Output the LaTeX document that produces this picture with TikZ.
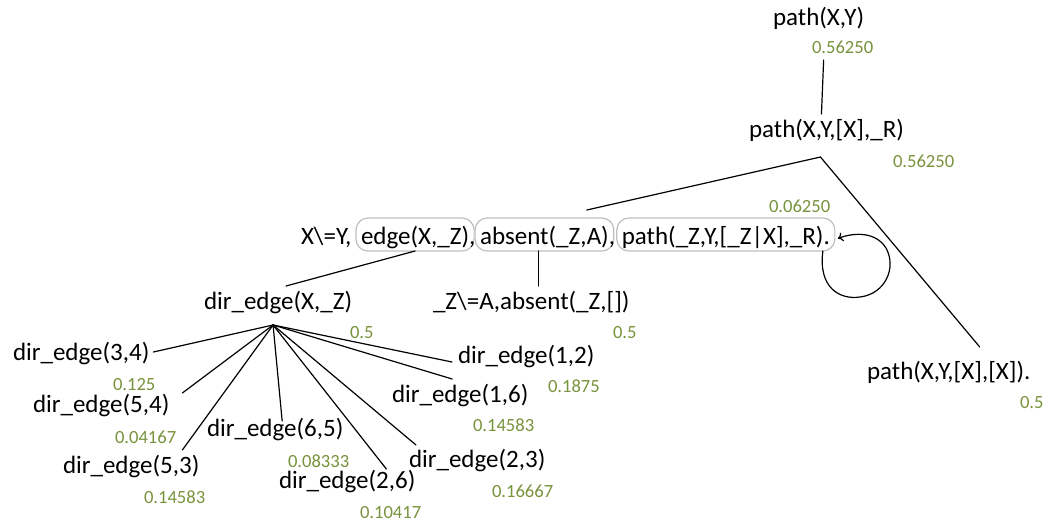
\documentclass[tikz,border=0pt]{standalone}
\usepackage{fontspec}
\setmainfont{Carlito}
\usetikzlibrary{calc,arrows.meta}
\definecolor{numgreen}{RGB}{119,147,60}
\definecolor{boxgray}{RGB}{190,190,190}
\begin{document}
\begin{tikzpicture}[x=1pt,y=-1pt,
  lbl/.style={inner sep=0pt, outer sep=0pt, anchor=base west,
    font=\fontsize{25}{30}\selectfont, text height=18pt, text depth=5pt},
  num/.style={inner sep=0pt, outer sep=0pt, anchor=base west,
    font=\fontsize{18.6}{22}\selectfont, text=numgreen, text height=13pt, text depth=0pt},
  goal/.style={lbl, draw=boxgray, line width=1.2pt, rounded corners=12pt,
    inner xsep=5pt, inner ysep=1pt, text height=25pt, text depth=6pt},
  link/.style={line width=1.2pt, line cap=round}]
\useasboundingbox (0,0) rectangle (1056,525);

% query and its first resolvent
\node[lbl] (n0) at (773,25) {path(X,Y)};
\node[num] (w0) at (812,53) {0.56250};
\node[lbl] (n1) at (749,137) {path(X,Y,[X],\_R)};
\node[num] (w1) at (893,167) {0.56250};

% clause body with the three boxed goals
\node[lbl] (t0) at (301,244) {X\textbackslash=Y,};
\node[goal] (b1) at (356,244) {edge(X,\_Z)};
\node[lbl] (c1) at ([xshift=-5pt]b1.base east) {,};
\node[goal] (b2) at ([xshift=1pt]b1.base east) {absent(\_Z,A)};
\node[lbl] (c2) at ([xshift=-5pt]b2.base east) {,};
\node[goal] (b3) at ([xshift=3pt]b2.base east) {path(\_Z,Y,[\_Z|X],\_R).};
\node[num] (w2) at (769,212) {0.06250};

% second clause
\node[lbl] (n7) at (867,379) {path(X,Y,[X],[X]).};
\node[num] (w5) at (1020,408) {0.5};

% sub-goals
\node[lbl] (dX) at (204,309) {dir\_edge(X,\_Z)};
\node[num] (w3) at (350,338) {0.5};
\node[lbl] (ab) at (433,309) {\_Z\textbackslash=A,absent(\_Z,[])};
\node[num] (w4) at (613,338) {0.5};

% facts
\node[lbl] (L34) at (13,360) {dir\_edge(3,4)};
\node[num] (v34) at (113,390) {0.125};
\node[lbl] (L54) at (33,412) {dir\_edge(5,4)};
\node[num] (v54) at (115,443) {0.04167};
\node[lbl] (L53) at (63,473) {dir\_edge(5,3)};
\node[num] (v53) at (144,503) {0.14583};
\node[lbl] (L65) at (207,436) {dir\_edge(6,5)};
\node[num] (v65) at (288,467) {0.08333};
\node[lbl] (L26) at (279,488) {dir\_edge(2,6)};
\node[num] (v26) at (360,518) {0.10417};
\node[lbl] (L23) at (409,467) {dir\_edge(2,3)};
\node[num] (v23) at (492,497) {0.16667};
\node[lbl] (L16) at (392,402) {dir\_edge(1,6)};
\node[num] (v16) at (473,431) {0.14583};
\node[lbl] (L12) at (458,363) {dir\_edge(1,2)};
\node[num] (v12) at (548,392) {0.1875};

% tree edges
\draw[link] ([shift={(-5pt,5pt)}]n1.north) -- ([shift={(-19pt,-7pt)}]w0.south);
\coordinate (split) at ([shift={(-6pt,-15pt)}]n1.south);
\draw[link] (split) -- ([shift={(-27pt,8pt)}]b2.north east);
\draw[link] (split) -- ([shift={(31pt,14pt)}]n7.north);
\draw[link] (b1.south) -- ([shift={(8pt,5pt)}]dX.north);
\coordinate (abtop) at ([yshift=5pt]ab.north);
\draw[link] ([xshift=-6pt]b2.south) -- ([xshift=-6pt]b2.south |- abtop);

% fan of dir_edge facts
\coordinate (fan) at ([shift={(-5pt,-11pt)}]dX.south);
\draw[link] (fan) -- ([shift={(4pt,1.5pt)}]L34.east);
\draw[link] (fan) -- ([shift={(13pt,1pt)}]L54.north east);
\draw[link] (fan) -- ([shift={(-17pt,5pt)}]L53.north east);
\draw[link] (fan) -- ([shift={(7pt,-3pt)}]L65.north);
\draw[link] (fan) -- ([shift={(-29pt,1pt)}]L26.north east);
\draw[link] (fan) -- ([shift={(7pt,4pt)}]L23.north west);
\draw[link] (fan) -- ([shift={(-8pt,5pt)}]L16.north);
\draw[link] (fan) -- ([shift={(-6pt,-5.5pt)}]L12.west);

% recursive call loops back onto the boxed goal
\draw[link, -{To[length=5pt,width=9pt]}]
  ([xshift=-12pt]b3.south east)
  .. controls (818,288) and (840,300) .. (860,297)
  .. controls (885,294) and (897,268) .. (886,248)
  .. controls (876,232) and (855,232) .. ([shift={(3pt,-4pt)}]b3.east);
\end{tikzpicture}
\end{document}
